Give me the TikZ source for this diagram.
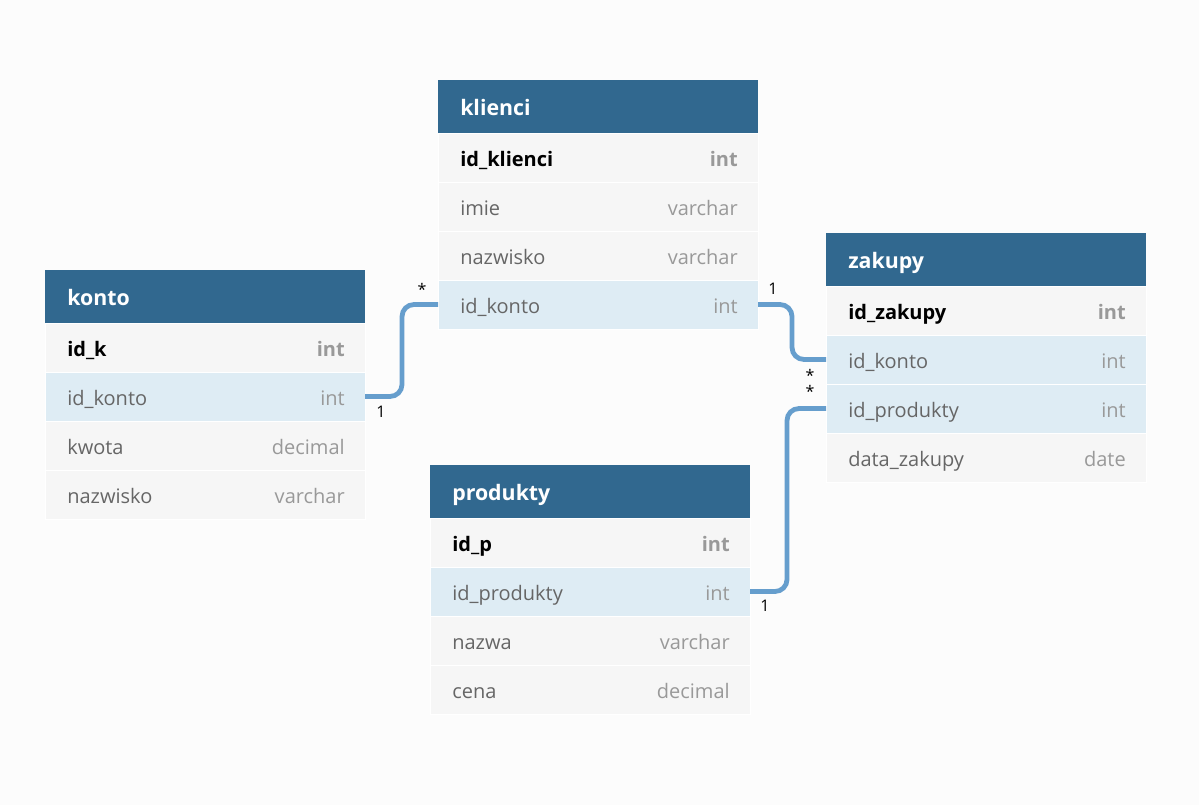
\documentclass[tikz,border=0pt]{standalone}
\usepackage{fontspec}
\setmainfont{Open Sans}
\usetikzlibrary{positioning}

\definecolor{hdrblue}{HTML}{31688F}
\definecolor{rowgray}{HTML}{F6F6F6}
\definecolor{rowblue}{HTML}{DEECF4}
\definecolor{linkblue}{HTML}{669ECD}
\definecolor{bggray}{HTML}{FCFCFC}
\definecolor{namegray}{HTML}{666666}
\definecolor{typegray}{HTML}{999999}

\tikzset{
  header/.style={fill=hdrblue, minimum width=240pt, minimum height=39.75pt,
    inner sep=0pt, outer sep=0pt, anchor=north west},
  row/.style={fill=rowgray, draw=white, line width=0.4pt, minimum width=240pt,
    minimum height=36.75pt, inner sep=0pt, outer sep=0pt},
  fkrow/.style={row, fill=rowblue},
  title/.style={text=white, inner sep=0pt, yshift=-6.8pt, font=\fontsize{16}{18}\selectfont\bfseries, anchor=base west},
  fname/.style={text=namegray, inner sep=0pt, yshift=-6.4pt, font=\fontsize{15}{17}\selectfont, anchor=base west},
  pkname/.style={fname, text=black, font=\fontsize{15}{17}\selectfont\bfseries},
  ftype/.style={text=typegray, inner sep=0pt, yshift=-6.4pt, font=\fontsize{15}{17}\selectfont, anchor=base east},
  pktype/.style={ftype, font=\fontsize{15}{17}\selectfont\bfseries},
  link/.style={draw=linkblue, line width=3.6pt, rounded corners=9pt},
  card/.style={font=\fontsize{12}{13}\selectfont, inner sep=1pt}
}

\begin{document}
\begin{tikzpicture}[x=0.75pt,y=-0.75pt]
  \fill[bggray] (0,0) rectangle (1199,805);
  \useasboundingbox (0,0) rectangle (1199,805);

  % klienci
  \node[header] (kl) at (438,80) {};
  \node[title] (kltitle) at ([xshift=16.5pt]kl.west) {klienci};
  \node[row, below=0pt of kl] (kl1) {};
  \node[pkname] (kl1n) at ([xshift=16.5pt]kl1.west) {id\_klienci};
  \node[pktype] (kl1t) at ([xshift=-15pt]kl1.east) {int};
  \node[row, below=0pt of kl1] (kl2) {};
  \node[fname] (kl2n) at ([xshift=16.5pt]kl2.west) {imie};
  \node[ftype] (kl2t) at ([xshift=-15pt]kl2.east) {varchar};
  \node[row, below=0pt of kl2] (kl3) {};
  \node[fname] (kl3n) at ([xshift=16.5pt]kl3.west) {nazwisko};
  \node[ftype] (kl3t) at ([xshift=-15pt]kl3.east) {varchar};
  \node[fkrow, below=0pt of kl3] (kl4) {};
  \node[fname] (kl4n) at ([xshift=16.5pt]kl4.west) {id\_konto};
  \node[ftype] (kl4t) at ([xshift=-15pt]kl4.east) {int};

  % konto
  \node[header] (ko) at (45,270) {};
  \node[title] (kotitle) at ([xshift=16.5pt]ko.west) {konto};
  \node[row, below=0pt of ko] (ko1) {};
  \node[pkname] (ko1n) at ([xshift=16.5pt]ko1.west) {id\_k};
  \node[pktype] (ko1t) at ([xshift=-15pt]ko1.east) {int};
  \node[fkrow, below=0pt of ko1] (ko2) {};
  \node[fname] (ko2n) at ([xshift=16.5pt]ko2.west) {id\_konto};
  \node[ftype] (ko2t) at ([xshift=-15pt]ko2.east) {int};
  \node[row, below=0pt of ko2] (ko3) {};
  \node[fname] (ko3n) at ([xshift=16.5pt]ko3.west) {kwota};
  \node[ftype] (ko3t) at ([xshift=-15pt]ko3.east) {decimal};
  \node[row, below=0pt of ko3] (ko4) {};
  \node[fname] (ko4n) at ([xshift=16.5pt]ko4.west) {nazwisko};
  \node[ftype] (ko4t) at ([xshift=-15pt]ko4.east) {varchar};

  % zakupy
  \node[header] (za) at (826,233) {};
  \node[title] (zatitle) at ([xshift=16.5pt]za.west) {zakupy};
  \node[row, below=0pt of za] (za1) {};
  \node[pkname] (za1n) at ([xshift=16.5pt]za1.west) {id\_zakupy};
  \node[pktype] (za1t) at ([xshift=-15pt]za1.east) {int};
  \node[fkrow, below=0pt of za1] (za2) {};
  \node[fname] (za2n) at ([xshift=16.5pt]za2.west) {id\_konto};
  \node[ftype] (za2t) at ([xshift=-15pt]za2.east) {int};
  \node[fkrow, below=0pt of za2] (za3) {};
  \node[fname] (za3n) at ([xshift=16.5pt]za3.west) {id\_produkty};
  \node[ftype] (za3t) at ([xshift=-15pt]za3.east) {int};
  \node[row, below=0pt of za3] (za4) {};
  \node[fname] (za4n) at ([xshift=16.5pt]za4.west) {data\_zakupy};
  \node[ftype] (za4t) at ([xshift=-15pt]za4.east) {date};

  % produkty
  \node[header] (pr) at (430,465) {};
  \node[title] (prtitle) at ([xshift=16.5pt]pr.west) {produkty};
  \node[row, below=0pt of pr] (pr1) {};
  \node[pkname] (pr1n) at ([xshift=16.5pt]pr1.west) {id\_p};
  \node[pktype] (pr1t) at ([xshift=-15pt]pr1.east) {int};
  \node[fkrow, below=0pt of pr1] (pr2) {};
  \node[fname] (pr2n) at ([xshift=16.5pt]pr2.west) {id\_produkty};
  \node[ftype] (pr2t) at ([xshift=-15pt]pr2.east) {int};
  \node[row, below=0pt of pr2] (pr3) {};
  \node[fname] (pr3n) at ([xshift=16.5pt]pr3.west) {nazwa};
  \node[ftype] (pr3t) at ([xshift=-15pt]pr3.east) {varchar};
  \node[row, below=0pt of pr3] (pr4) {};
  \node[fname] (pr4n) at ([xshift=16.5pt]pr4.west) {cena};
  \node[ftype] (pr4t) at ([xshift=-15pt]pr4.east) {decimal};

  % relations
  \draw[link] (ko2.east) -- ++(37,0) |- (kl4.west);
  \draw[link] (kl4.east) -- ++(34,0) |- (za2.west);
  \draw[link] (pr2.east) -- ++(37,0) |- (za3.west);

  \node[card] (c1) at (381,412) {1};
  \node[card] (c2) at (422,289) {*};
  \node[card] (c3) at (773,289) {1};
  \node[card] (c4) at (810,375) {*};
  \node[card] (c5) at (810,391) {*};
  \node[card] (c6) at (765,606) {1};
\end{tikzpicture}
\end{document}
